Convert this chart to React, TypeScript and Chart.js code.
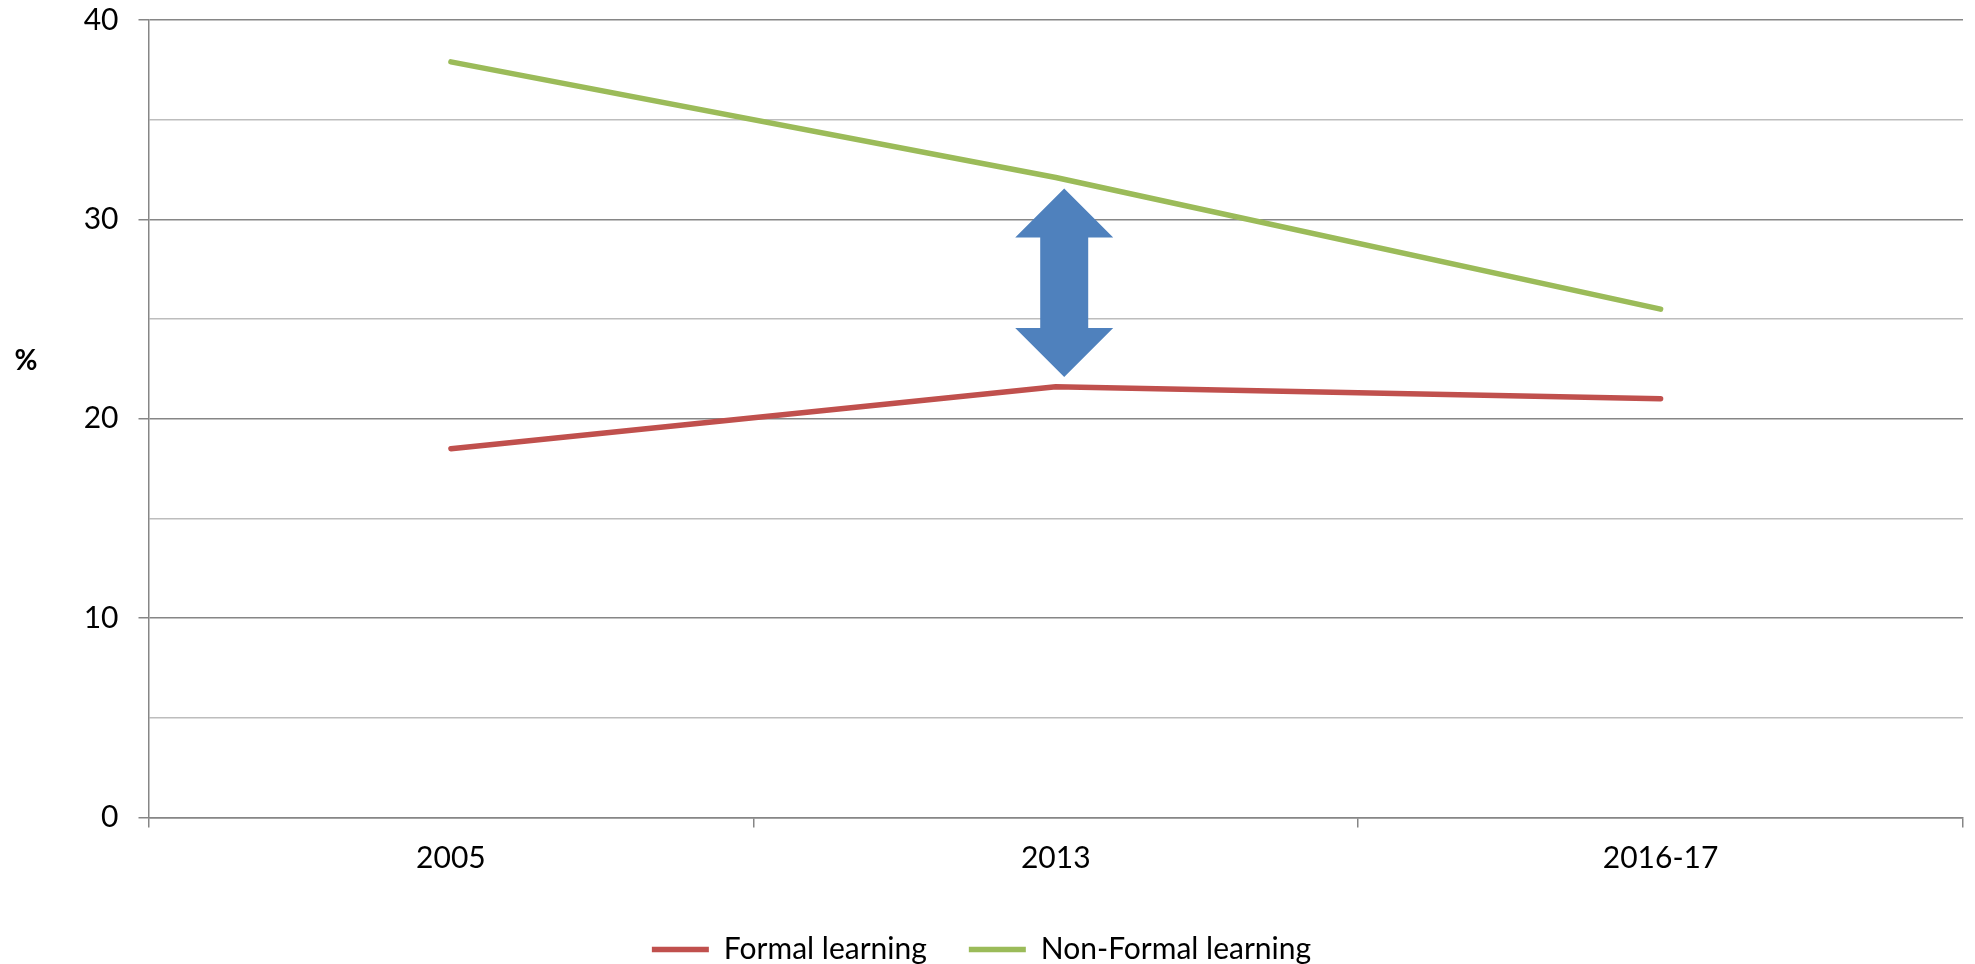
import React, { useEffect, useRef } from 'react';
import { Chart, registerables } from 'chart.js';

Chart.register(...registerables);

const categories = ['2005', '2013', '2016-17'];
const formalLearning = [18.5, 21.6, 21.0];
const nonFormalLearning = [37.9, 32.1, 25.5];
const seriesNames = ['Formal learning', 'Non-Formal learning'];
const seriesColors = ['#C0504D', '#9BBB59'];
const yMin = 0;
const yMax = 40;
const yStep = 5;
const yLabelStep = 10;
const yAxisTitle = '%';
// double-headed arrow showing the gap in 2013 (values in data units)
const gapArrowCategory = 1;
const gapArrowTop = 31.55;
const gapArrowBottom = 22.1;

const FONT = 'Lato, "Open Sans", sans-serif';
const FONT_SIZE = 30;

const arrowPlugin = {
  id: 'gapArrow',
  afterDatasetsDraw(chart: any) {
    const { ctx, scales } = chart;
    const xs = scales.x;
    const ys = scales.y;
    const catW = xs.getPixelForValue(1) - xs.getPixelForValue(0);
    const cx = xs.getPixelForValue(gapArrowCategory) + catW * 0.014;
    const yTop = ys.getPixelForValue(gapArrowTop);
    const yBot = ys.getPixelForValue(gapArrowBottom);
    const headH = 49;
    const headHW = 49;
    const shaftHW = 24;
    ctx.save();
    ctx.fillStyle = '#4F81BD';
    ctx.beginPath();
    ctx.moveTo(cx, yTop);
    ctx.lineTo(cx + headHW, yTop + headH);
    ctx.lineTo(cx + shaftHW, yTop + headH);
    ctx.lineTo(cx + shaftHW, yBot - headH);
    ctx.lineTo(cx + headHW, yBot - headH);
    ctx.lineTo(cx, yBot);
    ctx.lineTo(cx - headHW, yBot - headH);
    ctx.lineTo(cx - shaftHW, yBot - headH);
    ctx.lineTo(cx - shaftHW, yTop + headH);
    ctx.lineTo(cx - headHW, yTop + headH);
    ctx.closePath();
    ctx.fill();
    ctx.restore();
  },
};

const yTitlePlugin = {
  id: 'yTitle',
  afterDraw(chart: any) {
    const { ctx, chartArea } = chart;
    ctx.save();
    ctx.font = 'bold 28px ' + FONT;
    ctx.fillStyle = '#000';
    ctx.textAlign = 'center';
    ctx.textBaseline = 'middle';
    const y = chartArea.top + (chartArea.bottom - chartArea.top) * 0.428;
    ctx.fillText(yAxisTitle, 26, y);
    ctx.restore();
  },
};

export default function App() {
  const canvasRef = useRef<HTMLCanvasElement>(null);

  useEffect(() => {
    if (!canvasRef.current) return;
    const chart = new Chart(canvasRef.current, {
      type: 'line',
      data: {
        labels: categories,
        datasets: [
          {
            label: seriesNames[0],
            data: formalLearning,
            borderColor: seriesColors[0],
            backgroundColor: seriesColors[0],
            borderWidth: 5.5,
            borderCapStyle: 'round',
            borderJoinStyle: 'round',
            pointRadius: 0,
            tension: 0,
          },
          {
            label: seriesNames[1],
            data: nonFormalLearning,
            borderColor: seriesColors[1],
            backgroundColor: seriesColors[1],
            borderWidth: 5.5,
            borderCapStyle: 'round',
            borderJoinStyle: 'round',
            pointRadius: 0,
            tension: 0,
          },
        ],
      },
      options: {
        animation: false,
        responsive: true,
        maintainAspectRatio: false,
        layout: { padding: { left: 0, right: 12, top: 20, bottom: -10.5 } },
        plugins: {
          legend: {
            display: true,
            position: 'bottom',
            labels: {
              font: { family: FONT, size: FONT_SIZE },
              color: '#000',
              usePointStyle: true,
              pointStyle: 'line',
              pointStyleWidth: 57,
              padding: 42,
            },
          },
          tooltip: { enabled: false },
        },
        scales: {
          x: {
            type: 'category',
            offset: true,
            grid: {
              display: true,
              drawOnChartArea: false,
              drawTicks: true,
              tickLength: 10,
              color: '#868686',
              lineWidth: 1.5,
              offset: true,
            },
            border: { display: true, color: '#868686', width: 1.5 },
            ticks: {
              font: { family: FONT, size: FONT_SIZE },
              color: '#000',
              padding: 13,
              maxRotation: 0,
            },
            afterFit: (scale: any) => {
              scale.height = scale.height + 3;
            },
          },
          y: {
            min: yMin,
            max: yMax,
            grid: {
              color: (c: any) => (c.tick && c.tick.value % yLabelStep === 0 ? '#868686' : '#BDBDBD'),
              tickColor: (c: any) => (c.tick && c.tick.value % yLabelStep === 0 ? '#868686' : 'rgba(0,0,0,0)'),
              lineWidth: 1.5,
              tickLength: 10,
            },
            border: { display: true, color: '#868686', width: 1.5 },
            ticks: {
              stepSize: yStep,
              font: { family: FONT, size: FONT_SIZE },
              color: '#000',
              padding: 20,
              callback: (v: any) => (Number(v) % yLabelStep === 0 ? String(v) : ''),
            },
            afterFit: (scale: any) => {
              scale.width = 148.5;
              scale.paddingTop = 0;
              scale.paddingBottom = 0;
            },
          },
        },
      },
      plugins: [arrowPlugin, yTitlePlugin],
    });
    return () => chart.destroy();
  }, []);

  return (
    <div style={{ position: 'fixed', left: 0, top: 0, width: 1975, height: 964, background: '#fff' }}>
      <canvas ref={canvasRef} />
    </div>
  );
}
